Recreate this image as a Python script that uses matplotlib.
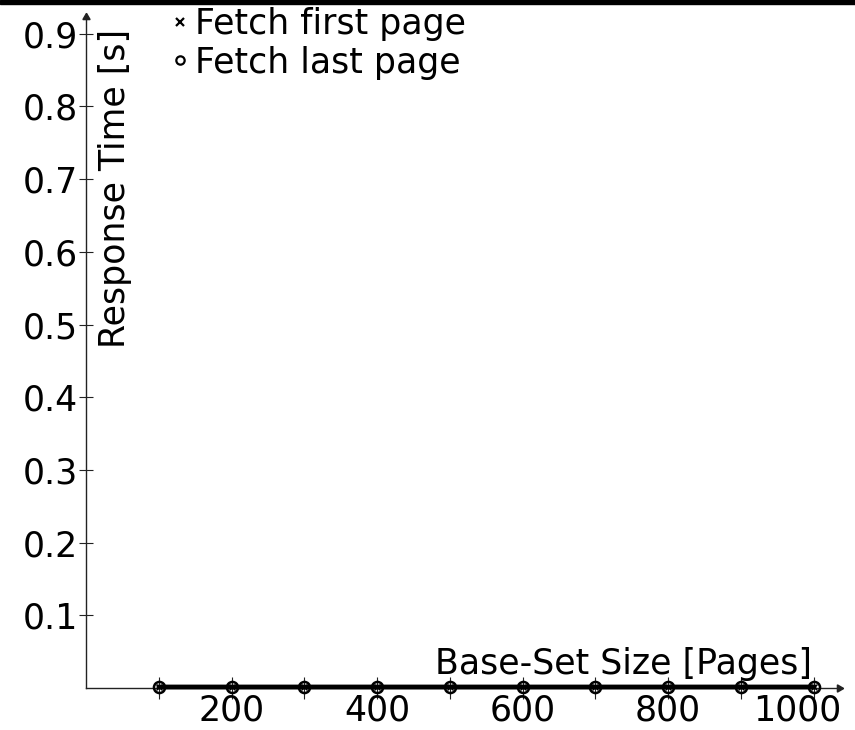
import matplotlib
matplotlib.use("Agg")
import matplotlib.pyplot as plt
from matplotlib.patches import Rectangle
from matplotlib.lines import Line2D
from matplotlib.transforms import ScaledTranslation

# Response times for fetching pages of a base set
base_set_size = [100, 200, 300, 400, 500, 600, 700, 800, 900, 1000]
fetch_first_page = [0.001, 0.001, 0.001, 0.001, 0.001, 0.001, 0.001, 0.001, 0.001, 0.001]
fetch_last_page = [0.002, 0.002, 0.002, 0.002, 0.002, 0.002, 0.002, 0.002, 0.002, 0.002]

x_ticks = [200, 400, 600, 800, 1000]
y_ticks = [0.1, 0.2, 0.3, 0.4, 0.5, 0.6, 0.7, 0.8, 0.9]

FS = 25
W, H = 855, 730
fig = plt.figure(figsize=(W / 100, H / 100), dpi=100)
plt.rcParams["font.family"] = "DejaVu Sans"

# axes box: origin at (86, 688) px, arrow tips at x=839 and y=17
x0, x1 = 86, 839
y0, y1 = 688, 17
ax = fig.add_axes([x0 / W, 1 - y0 / H, (x1 - x0) / W, (y0 - y1) / H])
ax.set_xlim(0, 1035)
ax.set_ylim(0, 0.923)

ax.plot(base_set_size, fetch_first_page, color="black", lw=3.2,
        marker="x", ms=4, mew=1.0, zorder=3, clip_on=False)
ax.plot(base_set_size, fetch_last_page, color="black", lw=3.2,
        marker="o", ms=8, mfc="none", mew=1.8, zorder=4, clip_on=False)

for s in ["top", "right"]:
    ax.spines[s].set_visible(False)
for s in ["left", "bottom"]:
    ax.spines[s].set_linewidth(1.0)
    ax.spines[s].set_color("#222222")

# arrow heads on the axes
ax.plot(1, 0, marker=(3, 0, -90), ms=6, color="#222222",
        transform=ax.transAxes, clip_on=False)
ax.plot(0, 1, marker=(3, 0, 0), ms=6, color="#222222",
        transform=ax.transAxes, clip_on=False)

ax.set_xticks(x_ticks)
ax.set_xticklabels([str(v) for v in x_ticks])
ax.set_xticks([100, 300, 500, 700, 900], minor=True)
ax.set_yticks(y_ticks)
ax.set_yticklabels([f"{v:.1f}" for v in y_ticks])
ax.tick_params(axis="y", which="major", direction="inout", length=10,
               width=0.8, labelsize=FS, pad=1, color="#222222")
ax.tick_params(axis="x", which="both", direction="inout", length=16,
               width=0.8, labelsize=FS, pad=-4, color="#222222")

# keep the last x label inside the figure
last = ax.get_xticklabels()[-1]
last.set_transform(last.get_transform()
                   + ScaledTranslation(-16 / 100, 0, fig.dpi_scale_trans))

ax.text(998, 0.033, "Base-Set Size [Pages]", fontsize=FS, ha="right",
        va="center")
ax.text(40, 0.906, "Response Time [s]", fontsize=FS, rotation=90,
        ha="center", va="top")

handles = [
    Line2D([], [], ls="none", marker="x", ms=5.5, mew=1.6, color="black"),
    Line2D([], [], ls="none", marker="o", ms=6, mfc="none", mew=1.6,
           color="black"),
]
ax.legend(handles, ["Fetch first page", "Fetch last page"], loc="upper left",
          bbox_to_anchor=(0.097, 1.035), frameon=False, fontsize=FS,
          handlelength=0.4, handletextpad=0.25, labelspacing=0.12,
          borderaxespad=0)

fig.patches.append(Rectangle((0, 1 - 4 / H), 1, 4 / H, color="black",
                             transform=fig.transFigure, figure=fig))

fig.savefig("out.png", dpi=100)
